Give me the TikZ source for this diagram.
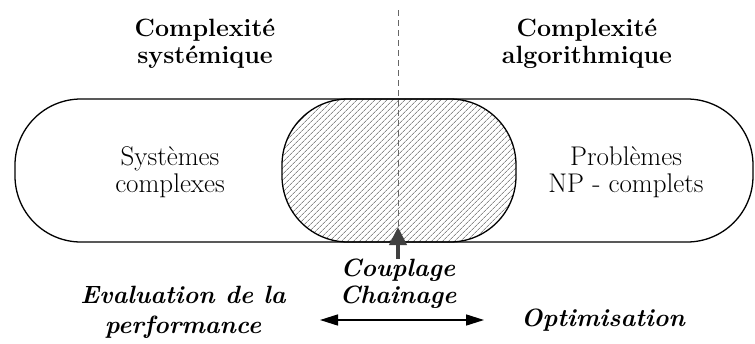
\documentclass[tikz,border=0pt]{standalone}
\usepackage{tikz}
\usetikzlibrary{arrows.meta,patterns.meta,positioning}

\begin{document}
\begin{tikzpicture}[x=1pt, y=-1pt,
    titre/.style={font=\fontsize{25}{27}\selectfont\bfseries, align=center},
    texte/.style={font=\fontsize{27}{27}\selectfont, align=center},
    note/.style={font=\fontsize{25}{30}\selectfont\bfseries\itshape, align=center},
    forme/.style={line width=1.3pt, rounded corners=66pt}]
\useasboundingbox (0,0) rectangle (755,343);
% zone commune
\begin{scope}
    \clip[rounded corners=66pt] (15,99) rectangle (516,242);
    \fill[pattern={Lines[angle=45, distance=4pt, line width=0.6pt]}, pattern color=black!70,
        rounded corners=66pt] (282,99) rectangle (753,242);
\end{scope}
\draw[forme] (15,99) rectangle (516,242);
\draw[forme] (282,99) rectangle (753,242);
% separation
\coordinate (haut) at (398,10);
\coordinate (bas) at (398,242);
\draw[dash pattern=on 6pt off 4pt, black!60, line width=0.8pt] (haut) -- (bas);
% textes
\node[titre] (csys) at (205,44) {Complexité\\systémique};
\node[titre] (calg) at (587,44) {Complexité\\algorithmique};
\node[texte] (sys) at (170,172) {Systèmes\\complexes};
\node[texte] (np) at (626,172) {Problèmes\\NP - complets};
\node[note, font=\fontsize{25}{27}\selectfont\bfseries\itshape, inner sep=0pt] (coupl) at (398,284) {Couplage\\Chainage};
\node[note] (perf) at (183,312) {Evaluation de la\\performance};
\node[note] (optim) at (603,320) {Optimisation};
% fleches
\coordinate (pointe) at (398,227);
\draw[-{Triangle[length=18pt, width=17pt]}, line width=4pt, black!75] (coupl.north) -- (pointe);
\coordinate (g) at (320,320);
\coordinate (d) at (484,320);
\draw[{Triangle[length=18pt, width=11pt]}-{Triangle[length=18pt, width=11pt]}, line width=1.5pt] (g) -- (d);
\end{tikzpicture}
\end{document}
